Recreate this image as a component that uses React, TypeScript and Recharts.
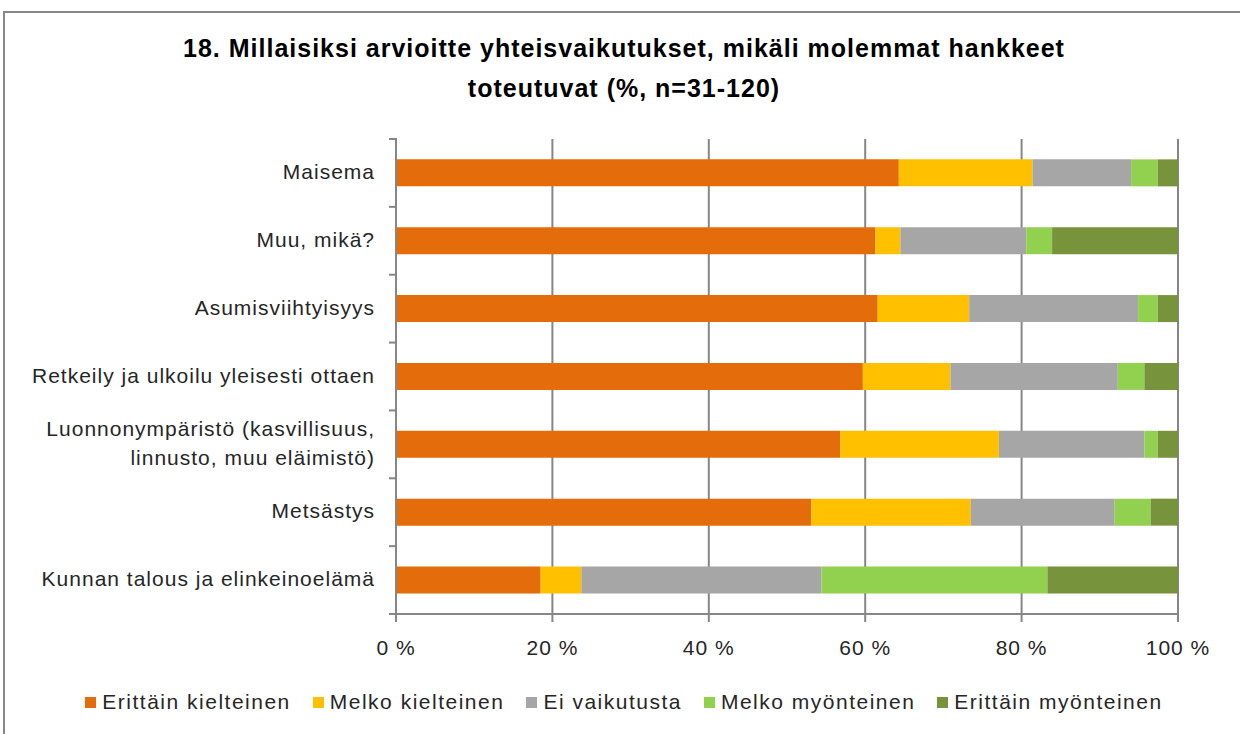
import React from "react";
import { BarChart, Bar, XAxis, YAxis, CartesianGrid } from "recharts";

const categories = [
  "Maisema",
  "Muu, mikä?",
  "Asumisviihtyisyys",
  "Retkeily ja ulkoilu yleisesti ottaen",
  "Luonnonympäristö (kasvillisuus, linnusto, muu eläimistö)",
  "Metsästys",
  "Kunnan talous ja elinkeinoelämä",
];

const erittainKielteinen = [64.3, 61.3, 61.6, 59.7, 56.8, 53.1, 18.5];
const melkoKielteinen = [17.1, 3.2, 11.7, 11.2, 20.3, 20.4, 5.2];
const eiVaikutusta = [12.6, 16.1, 21.6, 21.4, 18.6, 18.4, 30.7];
const melkoMyonteinen = [3.4, 3.3, 2.5, 3.4, 1.7, 4.6, 28.9];
const erittainMyonteinen = [2.6, 16.1, 2.6, 4.3, 2.6, 3.5, 16.7];

const xTicks = [0, 20, 40, 60, 80, 100];

const series = [
  { key: "ek", name: "Erittäin kielteinen", color: "#E46C0A", values: erittainKielteinen },
  { key: "mk", name: "Melko kielteinen", color: "#FFC000", values: melkoKielteinen },
  { key: "ev", name: "Ei vaikutusta", color: "#A6A6A6", values: eiVaikutusta },
  { key: "mm", name: "Melko myönteinen", color: "#92D050", values: melkoMyonteinen },
  { key: "em", name: "Erittäin myönteinen", color: "#77933C", values: erittainMyonteinen },
];

const data = categories.map((name, i) => {
  const row: Record<string, string | number> = { name };
  series.forEach((s) => (row[s.key] = s.values[i]));
  return row;
});

const FONT = "'Liberation Sans', Arial, sans-serif";
const AXIS = "#868686";
const TEXT = "#262626";
const PLOT_TOP = 139;
const PLOT_BOTTOM = 614;
const BAND = (PLOT_BOTTOM - PLOT_TOP) / categories.length;

// crude word wrap by character count
function wrap(label: string, max = 36) {
  const words = label.split(" ");
  const lines: string[] = [];
  let cur = "";
  words.forEach((w) => {
    const next = cur ? cur + " " + w : w;
    if (next.length > max && cur) {
      lines.push(cur);
      cur = w;
    } else cur = next;
  });
  if (cur) lines.push(cur);
  return lines;
}

const YTick = (props: any) => {
  const { x, y, payload, index } = props;
  const lines = wrap(payload.value);
  const lh = 29;
  const start = y - 2 - ((lines.length - 1) * lh) / 2;
  return (
    <g>
      <line x1={x + 1} x2={x + 9} y1={y - BAND / 2} y2={y - BAND / 2} stroke={AXIS} strokeWidth={2} />
      {index === categories.length - 1 && (
        <line x1={x + 1} x2={x + 9} y1={y + BAND / 2} y2={y + BAND / 2} stroke={AXIS} strokeWidth={2} />
      )}
      <text
        x={x - 13}
        y={start}
        textAnchor="end"
        dominantBaseline="central"
        fontSize={21}
        letterSpacing={1}
        fontFamily={FONT}
        fill={TEXT}
      >
        {lines.map((l, i) => (
          <tspan key={i} x={x - 13} dy={i === 0 ? 0 : lh}>
            {l}
          </tspan>
        ))}
      </text>
    </g>
  );
};

export default function App() {
  return (
    <div
      style={{
        position: "absolute",
        left: 0,
        top: 0,
        width: 1240,
        height: 734,
        overflow: "hidden",
        background: "#fff",
        fontFamily: FONT,
      }}
    >
      <div
        style={{
          position: "absolute",
          left: 3,
          top: 11,
          width: 1260,
          height: 760,
          border: `2px solid ${AXIS}`,
        }}
      />
      <div
        style={{
          position: "absolute",
          left: 4,
          top: 28,
          width: 1240,
          textAlign: "center",
          fontSize: 25,
          letterSpacing: 1,
          fontWeight: "bold",
          lineHeight: "40px",
          color: "#000",
        }}
      >
        18. Millaisiksi arvioitte yhteisvaikutukset, mikäli molemmat hankkeet
        <br />
        toteutuvat (%, n=31-120)
      </div>
      <div style={{ position: "absolute", left: 0, top: 0 }}>
        <BarChart
          width={1240}
          height={734}
          data={data}
          layout="vertical"
          margin={{ top: PLOT_TOP, right: 62, bottom: 734 - PLOT_BOTTOM - 40, left: 0 }}
          barCategoryGap="30%"
        >
          <CartesianGrid horizontal={false} vertical stroke={AXIS} strokeWidth={2} />
          <XAxis
            type="number"
            domain={[0, 100]}
            ticks={xTicks}
            height={40}
            axisLine={{ stroke: AXIS, strokeWidth: 2 }}
            tickLine={{ stroke: AXIS, strokeWidth: 2 }}
            tickSize={8}
            tickFormatter={(v) => `${v} %`}
            tick={{ fontSize: 21, letterSpacing: 1, fontFamily: FONT, fill: TEXT, dy: 16 }}
            interval={0}
          />
          <YAxis
            type="category"
            dataKey="name"
            width={396}
            axisLine={{ stroke: AXIS, strokeWidth: 2 }}
            tickLine={false}
            tick={<YTick />}
            interval={0}
          />
          {series.map((s) => (
            <Bar
              key={s.key}
              dataKey={s.key}
              name={s.name}
              stackId="a"
              fill={s.color}
              isAnimationActive={false}
            />
          ))}
        </BarChart>
      </div>
      <div
        style={{
          position: "absolute",
          left: 4,
          top: 690,
          width: 1240,
          display: "flex",
          justifyContent: "center",
          gap: 22,
          fontSize: 21,
          letterSpacing: 1.5,
          color: TEXT,
        }}
      >
        {series.map((s) => (
          <div key={s.key} style={{ display: "flex", alignItems: "center", gap: 6 }}>
            <span style={{ width: 11, height: 11, background: s.color, display: "inline-block" }} />
            <span>{s.name}</span>
          </div>
        ))}
      </div>
    </div>
  );
}
